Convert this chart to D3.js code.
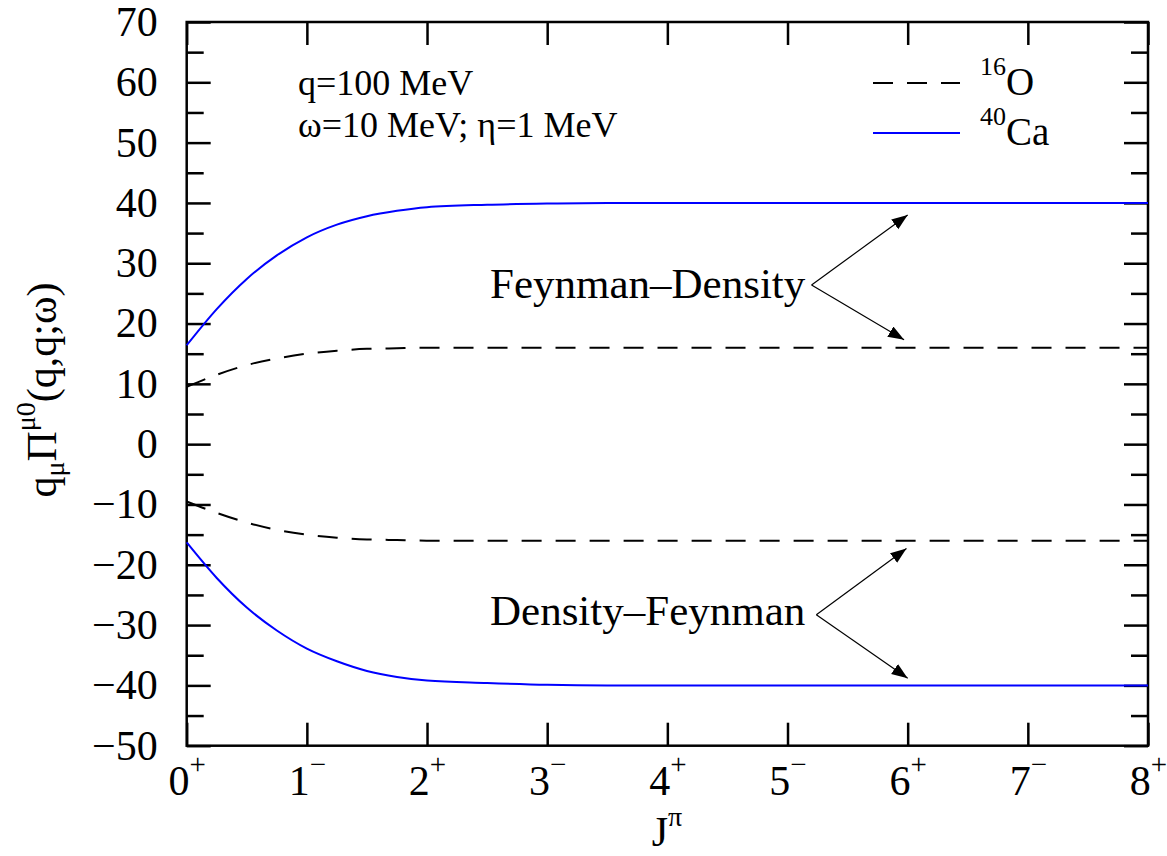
<!DOCTYPE html>
<html>
<head>
<meta charset="utf-8">
<script src="https://cdn.jsdelivr.net/npm/d3@7"></script>
<style>
  body { margin: 0; background: #fff; }
  svg { display: block; font-family: "Liberation Serif", "Times New Roman", serif; }
</style>
</head>
<body>
<svg id="chart" width="1167" height="856"></svg>
<script>
const jGrid = [0, 0.25, 0.5, 0.75, 1, 1.25, 1.5, 1.75, 2, 2.5, 3, 3.5, 4, 5, 6, 7, 8];

// Feynman-Density (upper) and Density-Feynman (lower) branches
const o16FD  = [9.5, 11.5, 13.1, 14.2, 15.0, 15.5, 15.8, 15.9, 16.0, 16.0, 16.0, 16.0, 16.0, 16.0, 16.0, 16.0, 16.0];
const o16DF  = [-9.5, -11.4, -13.0, -14.2, -15.0, -15.5, -15.8, -15.9, -16.0, -16.0, -16.0, -16.0, -16.0, -16.0, -16.0, -16.0, -16.0];
const ca40FD = [16.4, 22.4, 27.4, 31.3, 34.3, 36.4, 37.8, 38.7, 39.3, 39.7, 39.9, 40.0, 40.0, 40.0, 40.0, 40.0, 40.0];
const ca40DF = [-16.3, -22.2, -27.1, -30.9, -33.9, -36.0, -37.6, -38.6, -39.2, -39.6, -39.9, -40.0, -40.0, -40.0, -40.0, -40.0, -40.0];

// tick labels
const jTicks   = [0, 1, 2, 3, 4, 5, 6, 7, 8];
const jParity  = ["+", "\u2212", "+", "\u2212", "+", "\u2212", "+", "\u2212", "+"];
const yMajor   = [-50, -40, -30, -20, -10, 0, 10, 20, 30, 40, 50, 60, 70];
const yMinor   = [-45, -35, -25, -15, -5, 5, 15, 25, 35, 45, 55, 65];

const svg = d3.select("#chart");
const plotL = 186.7, plotR = 1148, plotT = 22, plotB = 745.7;

const x = d3.scaleLinear().domain([0, 8]).range([plotL, plotR]);
const y = d3.scaleLinear().domain([-50, 70]).range([plotB, plotT]);

// marker for the annotation arrows
svg.append("defs").append("marker")
    .attr("id", "head")
    .attr("markerUnits", "userSpaceOnUse")
    .attr("markerWidth", 18).attr("markerHeight", 14)
    .attr("refX", 16).attr("refY", 6)
    .attr("orient", "auto")
  .append("path")
    .attr("d", "M0,0 L16,6 L0,12 Z")
    .attr("fill", "#000");

// axes
const fontSize = 42;

const yAxis = svg.append("g")
    .attr("transform", `translate(${plotL},0)`)
    .call(d3.axisLeft(y).tickValues(yMajor).tickSizeInner(-24).tickSizeOuter(0).tickPadding(29));
yAxis.selectAll("text").attr("font-size", fontSize).attr("font-family", "Liberation Serif").attr("fill", "#000");

svg.append("g")
    .attr("transform", `translate(${plotL},0)`)
    .call(d3.axisLeft(y).tickValues(yMinor).tickSizeInner(-17).tickSizeOuter(0).tickFormat(""));

svg.append("g")
    .attr("transform", `translate(${plotR},0)`)
    .call(d3.axisRight(y).tickValues(yMajor).tickSizeInner(-24).tickSizeOuter(0).tickFormat(""));
svg.append("g")
    .attr("transform", `translate(${plotR},0)`)
    .call(d3.axisRight(y).tickValues(yMinor).tickSizeInner(-17).tickSizeOuter(0).tickFormat(""));

const xAxis = svg.append("g")
    .attr("transform", `translate(0,${plotB})`)
    .call(d3.axisBottom(x).tickValues(jTicks).tickSizeInner(-23).tickSizeOuter(0).tickPadding(49));
xAxis.selectAll("text")
    .attr("font-size", fontSize).attr("font-family", "Liberation Serif").attr("fill", "#000")
    .attr("dy", null)
    .text(null)
    .each(function (d, i) {
        const t = d3.select(this);
        t.append("tspan").text(d);
        t.append("tspan").attr("font-size", 29).attr("dy", -21).text(jParity[i]);
    });

svg.append("g")
    .attr("transform", `translate(0,${plotT})`)
    .call(d3.axisTop(x).tickValues(jTicks).tickSizeInner(-23).tickSizeOuter(0).tickFormat(""));

svg.selectAll(".domain").remove();
svg.selectAll(".tick line").attr("stroke", "#000").attr("stroke-width", 2.5);

// frame
svg.append("rect")
    .attr("x", plotL).attr("y", plotT)
    .attr("width", plotR - plotL).attr("height", plotB - plotT)
    .attr("fill", "none").attr("stroke", "#000").attr("stroke-width", 2.5);

// curves, drawn over the ticks
const line = d3.line()
    .x(d => x(d[0]))
    .y(d => y(d[1]))
    .curve(d3.curveMonotoneX);

const series = [
    { vals: o16FD, color: "#000", dash: "20,14" },
    { vals: o16DF, color: "#000", dash: "20,14" },
    { vals: ca40FD, color: "#0000ff", dash: null },
    { vals: ca40DF, color: "#0000ff", dash: null }
];

svg.append("g").selectAll("path")
    .data(series)
    .enter().append("path")
    .attr("d", s => line(jGrid.map((j, i) => [j, s.vals[i]])))
    .attr("fill", "none")
    .attr("stroke", s => s.color)
    .attr("stroke-width", 2)
    .attr("stroke-dasharray", s => s.dash);

// axis titles
const xt = svg.append("text")
    .attr("x", 667).attr("y", 846)
    .attr("text-anchor", "middle")
    .attr("font-size", fontSize);
xt.append("tspan").text("J");
xt.append("tspan").attr("font-size", 28).attr("dy", -20).text("\u03c0");

const yt = svg.append("text")
    .attr("transform", "translate(56,390) rotate(-90)")
    .attr("text-anchor", "middle")
    .attr("font-size", 42);
yt.append("tspan").text("q");
yt.append("tspan").attr("font-size", 28).attr("dy", 8).text("\u03bc");
yt.append("tspan").attr("dy", -8).text("\u03a0");
yt.append("tspan").attr("font-size", 28).attr("dy", -21).text("\u03bc0");
yt.append("tspan").attr("dy", 21).text("(q,q;\u03c9)");

// parameters
svg.append("text").attr("x", 298).attr("y", 95).attr("font-size", 36).text("q=100 MeV");
svg.append("text").attr("x", 298).attr("y", 137).attr("font-size", 36).text("\u03c9=10 MeV; \u03b7=1 MeV");

// legend
const legend = [
    { iso: "16", el: "O", color: "#000", dash: "20,14", ly: 83 },
    { iso: "40", el: "Ca", color: "#0000ff", dash: null, ly: 133 }
];
legend.forEach(l => {
    svg.append("line")
        .attr("x1", 873).attr("x2", 960).attr("y1", l.ly).attr("y2", l.ly)
        .attr("stroke", l.color).attr("stroke-width", 2)
        .attr("stroke-dasharray", l.dash);
    const t = svg.append("text").attr("x", 980).attr("y", l.ly + 12).attr("font-size", 39);
    t.append("tspan").attr("font-size", 26).attr("dy", -20).text(l.iso);
    t.append("tspan").attr("dy", 20).text(l.el);
});

// annotations with arrows
const notes = [
    { text: "Feynman\u2013Density", tx: 490, ty: 298, apex: [5.2, 26.4], tips: [[6.0, 38.0], [5.97, 17.3]] },
    { text: "Density\u2013Feynman", tx: 490, ty: 625, apex: [5.24, -28.3], tips: [[5.99, -17.3], [6.0, -38.8]] }
];
notes.forEach(n => {
    svg.append("text").attr("x", n.tx).attr("y", n.ty).attr("font-size", 43).text(n.text);
    n.tips.forEach(tp => {
        svg.append("line")
            .attr("x1", x(n.apex[0])).attr("y1", y(n.apex[1]))
            .attr("x2", x(tp[0])).attr("y2", y(tp[1]))
            .attr("stroke", "#000").attr("stroke-width", 1.2)
            .attr("marker-end", "url(#head)");
    });
});
</script>
</body>
</html>
